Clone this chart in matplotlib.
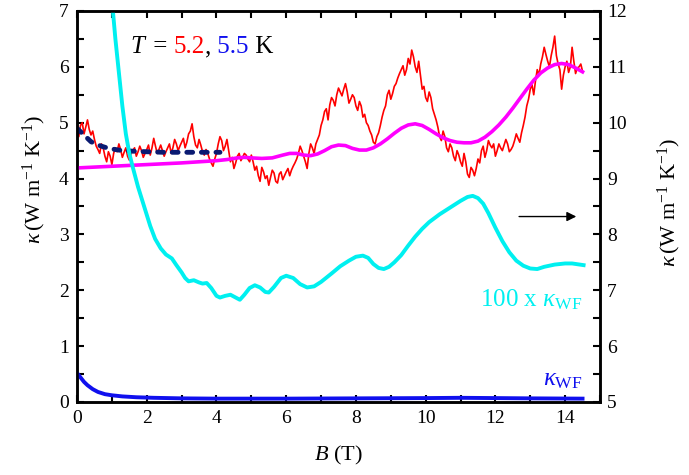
import numpy as np
import matplotlib
matplotlib.use("Agg")
import matplotlib.pyplot as plt
from matplotlib.offsetbox import TextArea, HPacker, AnchoredOffsetbox

plt.rcParams['font.family'] = ['Liberation Serif', 'DejaVu Serif']
plt.rcParams['mathtext.fontset'] = 'custom'
plt.rcParams['mathtext.rm'] = 'Liberation Serif'
plt.rcParams['mathtext.it'] = 'Liberation Serif:italic'

# kappa at T = 5.2 K (left axis), read every 0.1 T ...
k_red_main = [4.85, 4.95, 4.80, 5.05, 4.78, 4.70, 4.52, 4.62, 4.40, 4.48,
              4.25, 4.55, 4.62, 4.38, 4.55, 4.33, 4.50, 4.40, 4.58, 4.38,
              4.52, 4.42, 4.72, 4.45, 4.60, 4.40, 4.55, 4.45, 4.70, 4.50,
              4.65, 4.55, 4.80, 4.98, 4.60, 4.70, 4.48, 4.52, 4.35, 4.22,
              4.45, 4.75, 4.50, 4.70, 4.30, 4.18, 4.40, 4.32, 4.45, 4.35,
              4.42, 4.15, 4.05, 4.20, 4.00, 3.88, 4.15, 3.95, 4.08, 3.98,
              4.12, 4.05, 4.22, 4.35, 4.58, 4.40, 4.18, 4.62, 4.45, 4.70,
              4.95, 5.20, 5.05, 5.45, 5.30, 5.62, 5.48, 5.70, 5.35, 5.50,
              5.30, 5.38, 5.10, 5.00, 4.85, 4.65, 4.75, 4.95, 5.22, 5.50,
              5.42, 5.65, 5.80, 5.95, 5.85, 6.15, 6.30, 6.00, 6.10, 5.60,
              5.45, 5.55, 5.25, 5.05, 4.75, 4.85, 4.55, 4.62, 4.40, 4.50,
              4.30, 4.45, 4.08, 4.20, 4.05, 4.35, 4.50, 4.38, 4.68, 4.55,
              4.40, 4.62, 4.50, 4.70, 4.48, 4.58, 4.80, 4.65, 4.95, 5.30,
              5.60, 5.50, 5.95, 6.05, 6.35, 6.10, 6.20, 6.55, 6.05, 5.60,
              6.00, 5.90, 6.35, 5.88, 6.00, 5.92]
# ... and at the points half-way between
k_red_mid = [4.75, 5.00, 4.92, 4.88, 4.85, 4.58, 4.45, 4.55, 4.30, 4.40,
             4.45, 4.48, 4.52, 4.47, 4.40, 4.45, 4.55, 4.48, 4.50, 4.45,
             4.60, 4.55, 4.58, 4.52, 4.50, 4.48, 4.62, 4.55, 4.62, 4.58,
             4.72, 4.65, 4.85, 4.75, 4.55, 4.60, 4.42, 4.45, 4.28, 4.35,
             4.62, 4.68, 4.58, 4.50, 4.38, 4.28, 4.45, 4.38, 4.42, 4.30,
             4.30, 4.22, 3.95, 4.12, 4.05, 4.02, 4.10, 3.92, 4.12, 4.05,
             4.18, 4.15, 4.28, 4.45, 4.50, 4.30, 4.45, 4.55, 4.62, 4.78,
             5.05, 5.25, 5.32, 5.40, 5.50, 5.55, 5.60, 5.55, 5.42, 5.45,
             5.22, 5.30, 5.15, 4.95, 4.78, 4.62, 4.82, 5.10, 5.30, 5.58,
             5.52, 5.70, 5.88, 6.02, 5.95, 6.05, 6.18, 5.90, 5.85, 5.65,
             5.38, 5.45, 5.15, 4.92, 4.68, 4.75, 4.48, 4.55, 4.32, 4.42,
             4.22, 4.30, 4.02, 4.15, 4.18, 4.28, 4.58, 4.50, 4.60, 4.62,
             4.50, 4.55, 4.60, 4.62, 4.52, 4.68, 4.72, 4.82, 5.10, 5.42,
             5.68, 5.75, 5.85, 6.18, 6.22, 6.00, 6.35, 6.20, 5.95, 5.85,
             6.10, 6.00, 6.10, 5.98, 6.05]
B_red = np.linspace(0, 14.5, 291)
k_red = [None] * 291
k_red[0::2] = k_red_main
k_red[1::2] = k_red_mid

# kappa at T = 5.5 K (dashed)
B_navy = [0, 0.2, 0.4, 0.6, 0.8, 1.0, 1.3, 1.6, 2.0, 2.5, 3.0, 3.5, 4.1]
k_navy = [4.9, 4.78, 4.66, 4.6, 4.56, 4.53, 4.5, 4.49, 4.48, 4.47, 4.47, 4.47, 4.47]

# smooth curve (magenta)
B_mag = [0, 1, 2, 3, 3.5, 4, 4.3, 4.6, 4.8, 5.0, 5.3, 5.6, 5.9, 6.1, 6.3, 6.5,
         6.7, 6.9, 7.1, 7.3, 7.5, 7.7, 7.9, 8.1, 8.3, 8.5, 8.7, 8.9, 9.1, 9.3,
         9.5, 9.7, 9.9, 10.1, 10.3, 10.5, 10.7, 10.9, 11.1, 11.3, 11.5, 11.7,
         11.9, 12.1, 12.3, 12.5, 12.7, 12.9, 13.1, 13.3, 13.5, 13.7, 13.9,
         14.1, 14.3, 14.5]
k_mag = [4.19, 4.22, 4.25, 4.28, 4.30, 4.32, 4.34, 4.37, 4.38, 4.37, 4.36, 4.37,
         4.42, 4.45, 4.45, 4.42, 4.41, 4.44, 4.50, 4.57, 4.60, 4.59, 4.54, 4.51,
         4.51, 4.55, 4.62, 4.71, 4.81, 4.90, 4.96, 4.98, 4.95, 4.88, 4.80, 4.73,
         4.68, 4.65, 4.64, 4.64, 4.67, 4.74, 4.84, 4.96, 5.10, 5.26, 5.43, 5.60,
         5.76, 5.89, 5.98, 6.04, 6.06, 6.04, 5.98, 5.91]

# kappa_WF (left axis)
B_wf = [0, 0.1, 0.2, 0.3, 0.45, 0.6, 0.8, 1.0, 1.3, 1.7, 2.2, 3, 4, 6, 8, 10, 11, 12, 13, 14.5]
k_wf = [0.52, 0.44, 0.36, 0.3, 0.23, 0.18, 0.14, 0.12, 0.1, 0.085, 0.075, 0.065,
        0.06, 0.06, 0.065, 0.07, 0.075, 0.07, 0.065, 0.06]

# 100 x kappa_WF (right axis)
B_cyan = [0.9, 1.0, 1.1, 1.2, 1.3, 1.4, 1.5, 1.6, 1.75, 1.95, 2.1, 2.24, 2.4, 2.55,
          2.72, 2.85, 3.0, 3.1, 3.2, 3.35, 3.5, 3.6, 3.72, 3.85, 4.0, 4.1, 4.25,
          4.4, 4.55, 4.67, 4.8, 4.95, 5.1, 5.25, 5.4, 5.5, 5.65, 5.85, 6.0, 6.2,
          6.4, 6.6, 6.8, 7.0, 7.3, 7.55, 7.8, 8.0, 8.2, 8.35, 8.5, 8.65, 8.8,
          8.95, 9.1, 9.3, 9.5, 9.7, 9.9, 10.1, 10.4, 10.7, 11.0, 11.2, 11.35,
          11.5, 11.65, 11.8, 12.0, 12.2, 12.4, 12.6, 12.8, 13.0, 13.2, 13.4,
          13.7, 14.0, 14.2, 14.53]
k_cyan = [13.0, 12.2, 11.5, 10.9, 10.3, 9.8, 9.45, 9.2, 8.85, 8.45, 8.15, 7.92,
          7.75, 7.64, 7.57, 7.45, 7.32, 7.22, 7.16, 7.18, 7.14, 7.12, 7.13, 7.04,
          6.9, 6.87, 6.9, 6.92, 6.87, 6.83, 6.92, 7.04, 7.09, 7.05, 6.97, 6.96,
          7.06, 7.22, 7.26, 7.22, 7.11, 7.05, 7.07, 7.15, 7.3, 7.43, 7.53, 7.6,
          7.62, 7.58, 7.47, 7.4, 7.38, 7.42, 7.5, 7.63, 7.8, 7.96, 8.1, 8.22,
          8.36, 8.48, 8.6, 8.67, 8.69, 8.65, 8.55, 8.38, 8.12, 7.88, 7.68, 7.53,
          7.44, 7.39, 7.38, 7.42, 7.46, 7.48, 7.48, 7.45]

fig = plt.figure(figsize=(6.89, 4.75), dpi=100)
ax = fig.add_axes([0.1118, 0.1537, 0.759, 0.8232])
ax2 = ax.twinx()

ax.plot(B_red, k_red, color='#ff0000', lw=1.2, zorder=2)
ax.plot(B_mag, k_mag, color='#ff00ff', lw=2.6, zorder=3)
navy, = ax.plot(B_navy, k_navy, color='#0a1a72', lw=3.5, zorder=4,
                dash_capstyle='round')
navy.set_dashes((1.2, 1.8))
ax.plot(B_wf, k_wf, color='#1010ee', lw=2.8, zorder=3)
ax2.plot(B_cyan, k_cyan, color='#00f0f0', lw=2.8)

ax.set_xlim(0, 15)
ax.set_ylim(0, 7)
ax2.set_ylim(5, 12)

ax.set_xticks(np.arange(0, 15, 2))
ax.set_xticks(np.arange(0, 16, 1), minor=True)
ax.set_yticks(np.arange(0, 8, 1))
ax.set_yticks(np.arange(0, 7.01, 0.5), minor=True)
ax2.set_yticks(np.arange(5, 13, 1))
ax2.set_yticks(np.arange(5, 12.01, 0.5), minor=True)

for a in (ax, ax2):
    a.tick_params(which='both', direction='in', width=1.5, length=5, labelsize=14)
    for s in a.spines.values():
        s.set_linewidth(1.8)
ax.tick_params(which='both', top=True, right=False, pad=6)
ax2.tick_params(which='both', right=True, left=False, pad=5)

ax.set_xlabel(r'$B$ (T)', fontsize=16, labelpad=12)
ax.set_ylabel(r'$\kappa\,\mathrm{(W\ m^{-1}\ K^{-1})}$', fontsize=16)
ax2.set_ylabel(r'$\kappa\,\mathrm{(W\ m^{-1}\ K^{-1})}$', fontsize=16, rotation=90)
ax.yaxis.set_label_coords(-0.055, 0.57)
ax2.yaxis.set_label_coords(1.107, 0.51)

# title text with coloured temperatures
parts = [(r'$T$', 'black'), (' = ', 'black'), ('5.2', '#ff0000'), (',', 'black'),
         (' 5.5', '#1010ee'), (' K', 'black')]
boxes = [TextArea(s, textprops=dict(color=c, fontsize=18)) for s, c in parts]
pack = HPacker(children=boxes, align='baseline', pad=0, sep=0)
anch = AnchoredOffsetbox(loc='upper left', child=pack, pad=0, frameon=False,
                         borderpad=0, bbox_to_anchor=(0.101, 0.935),
                         bbox_transform=ax.transAxes)
ax.add_artist(anch)

ax.text(14.5, 1.72, r'100 x $\kappa_{\mathrm{WF}}$', color='#00f0f0', fontsize=18,
        ha='right', va='baseline')
ax.text(14.5, 0.30, r'$\kappa_{\mathrm{WF}}$', color='#1010ee', fontsize=18,
        ha='right', va='baseline')

ax.annotate('', xy=(14.4, 3.32), xytext=(12.6, 3.32),
            arrowprops=dict(arrowstyle='-|>', color='black', lw=1,
                            mutation_scale=14))

fig.savefig('out.png', dpi=100)
